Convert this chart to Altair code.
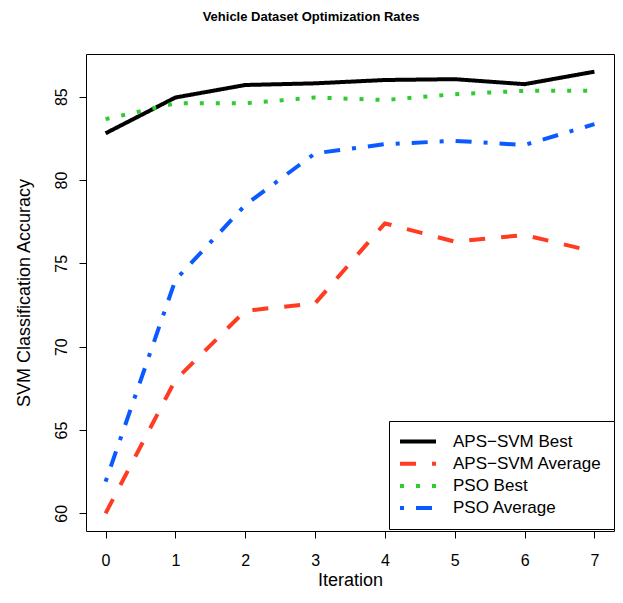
import altair as alt
import pandas as pd

iterations = [0, 1, 2, 3, 4, 5, 6, 7]
series_names = ["APS−SVM Best", "APS−SVM Average", "PSO Best", "PSO Average"]
aps_best = [82.8, 84.95, 85.7, 85.8, 86.0, 86.05, 85.75, 86.5]
aps_avg = [60.0, 68.0, 72.15, 72.6, 77.4, 76.3, 76.7, 75.7]
pso_best = [83.65, 84.6, 84.6, 84.95, 84.8, 85.15, 85.35, 85.35]
pso_avg = [61.9, 74.0, 78.5, 81.6, 82.15, 82.35, 82.1, 83.35]
x_ticks = [0, 1, 2, 3, 4, 5, 6, 7]
y_ticks = [60, 65, 70, 75, 80, 85]
main_title = ["Vehicle Dataset Optimization Rates"]

colors = ["#000000", "#FF3B22", "#2ECC2E", "#0A5AFF"]
dashes = [[1, 0], [16, 16], [4, 12], [4, 12, 16, 12]]

rows = []
for name, vals in zip(series_names, [aps_best, aps_avg, pso_best, pso_avg]):
    for it, v in zip(iterations, vals):
        rows.append({"Iteration": it, "Accuracy": v, "Series": name})
df = pd.DataFrame(rows)

FONT = "Liberation Sans"
W, H = 528, 477

legend = alt.Legend(
    title=None, orient="none", legendX=303, legendY=367,
    strokeColor="black", fillColor="white", padding=12, cornerRadius=0,
    symbolType="M-4,0H4", symbolSize=81, symbolStrokeWidth=4, symbolOffset=8.5,
    labelFontSize=17, labelFont=FONT, labelColor="black", labelOffset=26.5,
    rowPadding=4.2, labelLimit=400,
)

lines = alt.Chart(df).mark_line(strokeWidth=4, strokeCap="butt", strokeJoin="round").encode(
    x=alt.X("Iteration:Q",
            scale=alt.Scale(domain=[-0.28, 7.28], nice=False, zero=False),
            axis=alt.Axis(values=x_ticks, title="Iteration", grid=False, domain=False,
                          tickSize=7, tickColor="black", labelFontSize=16, labelFont=FONT,
                          labelColor="black", labelPadding=14, titleFontSize=18, titleFont=FONT,
                          titleFontWeight="normal", titleColor="black", titleY=54,
                          titleBaseline="alphabetic", format="d")),
    y=alt.Y("Accuracy:Q",
            scale=alt.Scale(domain=[58.94, 87.56], nice=False, zero=False),
            axis=alt.Axis(values=y_ticks, title="SVM Classification Accuracy", grid=False, domain=False,
                          tickSize=7, tickColor="black", labelFontSize=16, labelFont=FONT,
                          labelColor="black", labelPadding=13, labelAngle=270, labelAlign="center",
                          labelBaseline="alphabetic", titleFontSize=18, titleFont=FONT,
                          titleFontWeight="normal", titleColor="black", titleAngle=270,
                          titleX=-57, titleY=H / 2, titleAlign="center", titleBaseline="alphabetic")),
    color=alt.Color("Series:N", scale=alt.Scale(domain=series_names, range=colors), legend=legend),
    strokeDash=alt.StrokeDash("Series:N", scale=alt.Scale(domain=series_names, range=dashes), legend=legend),
)

title_text = alt.Chart(pd.DataFrame({"t": main_title})).mark_text(
    font=FONT, fontSize=13, fontWeight="bold", color="black", align="center", baseline="alphabetic"
).encode(text="t:N", x=alt.value(225), y=alt.value(-33))

chart = alt.layer(lines, title_text).properties(
    width=W, height=H,
    autosize=alt.AutoSizeParams(type="none"),
    padding={"left": 78, "top": 46, "right": 1, "bottom": 59},
).configure_view(stroke="black", strokeWidth=1)

chart.save("out.html", embed_options={"renderer": "svg", "actions": False})
